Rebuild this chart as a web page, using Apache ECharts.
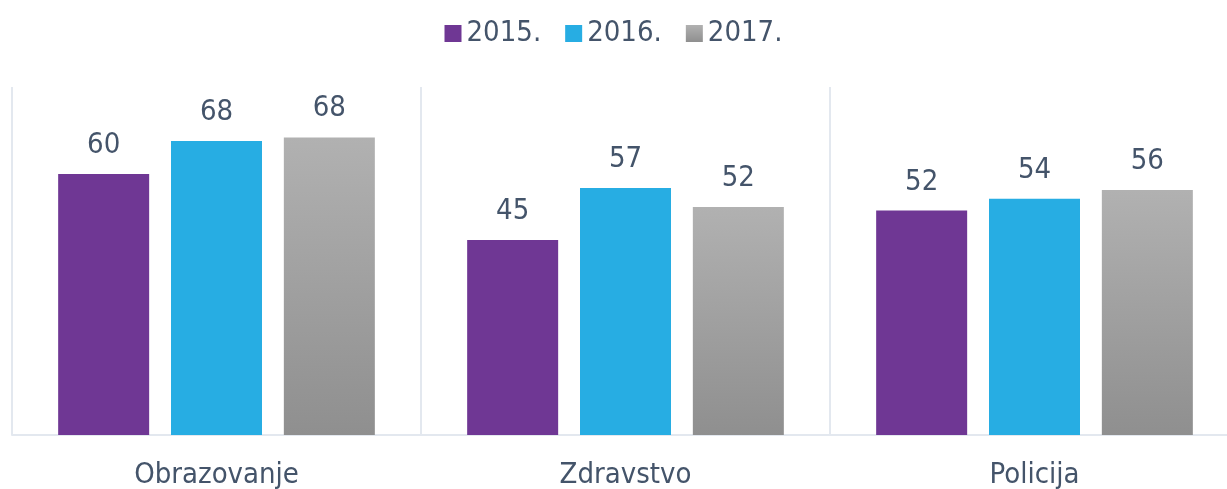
<!DOCTYPE html>
<html>
<head>
<meta charset="utf-8">
<script src="https://cdn.jsdelivr.net/npm/echarts@6/dist/echarts.min.js"></script>
<style>
  html, body { margin: 0; padding: 0; background: #fff; }
  #chart { width: 1227px; height: 489px; }
</style>
</head>
<body>
<div id="chart"></div>
<script>
const categories = ['Obrazovanje', 'Zdravstvo', 'Policija']
const years = ['2015.', '2016.', '2017.']
const values2015 = [60, 44.8, 51.6]
const values2016 = [67.6, 56.8, 54.3]
const values2017 = [68.4, 52.4, 56.3]

const font = '"DejaVu Sans Condensed", "Liberation Sans Narrow", sans-serif'
const textColor = '#44546a'
const gray = new echarts.graphic.LinearGradient(0, 0, 0, 1, [
  { offset: 0, color: '#b1b1b1' },
  { offset: 1, color: '#8f8f8f' },
])
const colors = ['#6f3794', '#27ade3', gray]

const chart = echarts.init(document.getElementById('chart'))
chart.setOption({
  animation: false,
  textStyle: { fontFamily: font },
  legend: {
    top: 14,
    left: 'center',
    icon: 'rect',
    itemWidth: 17,
    itemHeight: 17,
    itemGap: 24,
    textStyle: { color: textColor, fontSize: 29, fontFamily: font },
    data: years,
  },
  grid: { left: 12, width: 1227, top: 87, bottom: 54, outerBoundsMode: 'none' },
  xAxis: {
    type: 'category',
    data: categories,
    axisLine: { lineStyle: { color: '#e3e8ef', width: 2 } },
    axisTick: { show: false },
    splitLine: { show: true, lineStyle: { color: '#e3e8ef', width: 2 } },
    axisLabel: { color: textColor, fontSize: 29, fontFamily: font, margin: 26 },
  },
  yAxis: {
    type: 'value', min: 0, max: 80,
    show: false,
    splitLine: { show: false },
  },
  series: [values2015, values2016, values2017].map((data, i) => ({
    name: years[i],
    type: 'bar',
    data,
    barWidth: 91,
    barGap: '24%',
    itemStyle: { color: colors[i] },
    label: {
      show: true,
      position: 'top',
      distance: 14,
      color: textColor,
      fontSize: 29,
      fontFamily: font,
      formatter: (p) => Math.round(p.value),
    },
  })),
})
</script>
</body>
</html>
